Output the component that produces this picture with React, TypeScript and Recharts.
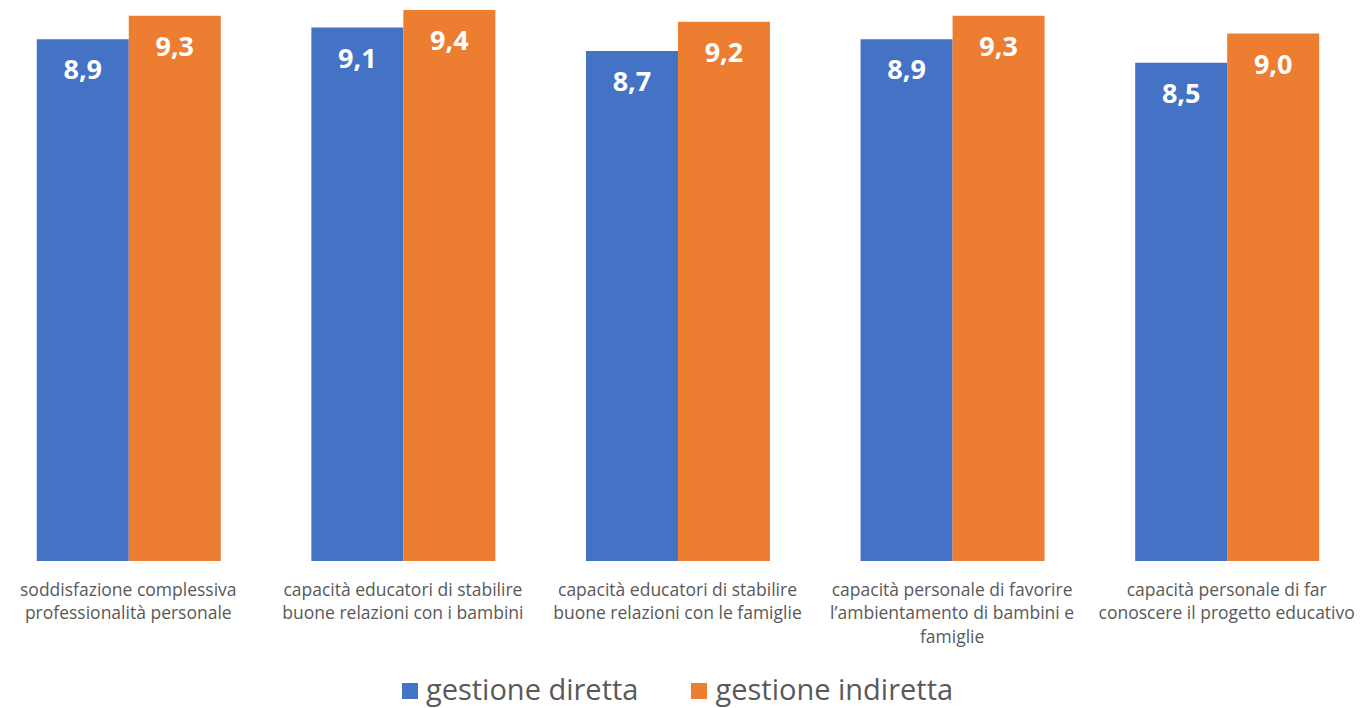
import { BarChart, Bar, XAxis, YAxis, Legend, LabelList } from 'recharts';

const categories = [
  'soddisfazione complessiva\nprofessionalità personale',
  'capacità educatori di stabilire\nbuone relazioni con i bambini',
  'capacità educatori di stabilire\nbuone relazioni con le famiglie',
  'capacità personale di favorire\nl’ambientamento di bambini e\nfamiglie',
  'capacità personale di far\nconoscere il progetto educativo',
];
const gestioneDiretta = [8.9, 9.1, 8.7, 8.9, 8.5];
const gestioneIndiretta = [9.3, 9.4, 9.2, 9.3, 9.0];

const data = categories.map((name, i) => ({
  name,
  diretta: gestioneDiretta[i],
  indiretta: gestioneIndiretta[i],
}));

const FONT = '"Open Sans", Calibri, sans-serif';
const BLUE = '#4472c4';
const ORANGE = '#ed7d31';

const CategoryTick = (props: any) => {
  const { x, y, payload } = props;
  const lines = String(payload.value).split('\n');
  return (
    <g transform={`translate(${x},${y})`}>
      {lines.map((line, i) => (
        <text
          key={i}
          x={0}
          y={22 + i * 23.5}
          textAnchor="middle"
          dominantBaseline="middle"
          fill="#595959"
          fontSize={17.5}
          fontFamily={FONT}
        >
          {line}
        </text>
      ))}
    </g>
  );
};

const ValueLabel = (props: any) => {
  const { x, y, width, value } = props;
  return (
    <text
      x={x + width / 2}
      y={y + 33}
      textAnchor="middle"
      dominantBaseline="middle"
      fill="#ffffff"
      fontSize={27}
      fontWeight={700}
      fontFamily={FONT}
    >
      {String(value.toFixed(1)).replace('.', ',')}
    </text>
  );
};

const LegendContent = () => (
  <div style={{ display: 'flex', justifyContent: 'center', gap: 53, height: 40, fontFamily: FONT, fontSize: 29, color: '#595959' }}>
    {[
      { label: 'gestione diretta', color: BLUE },
      { label: 'gestione indiretta', color: ORANGE },
    ].map((item) => (
      <div key={item.label} style={{ display: 'flex', alignItems: 'center' }}>
        <span style={{ display: 'inline-block', width: 16, height: 16, background: item.color, marginRight: 8, marginTop: 6 }} />
        <span>{item.label}</span>
      </div>
    ))}
  </div>
);

export default function App() {
  return (
    <div style={{ position: 'fixed', left: 0, top: 0, width: 1364, height: 708, overflow: 'hidden', background: '#fff' }}>
      <div style={{ marginLeft: -9 }}>
        <BarChart
          width={1373}
          height={708}
          data={data}
          margin={{ top: 0, right: 0, bottom: 0, left: 0 }}
          barCategoryGap="16.67%"
          barGap={0}
        >
          <XAxis
            dataKey="name"
            axisLine={false}
            tickLine={false}
            interval={0}
            height={107}
            tick={<CategoryTick />}
          />
          <YAxis hide domain={[0, 9.57]} allowDataOverflow />
          <Legend
            verticalAlign="bottom"
            content={<LegendContent />}
            wrapperStyle={{ bottom: 0, height: 40 }}
          />
          <Bar dataKey="diretta" fill={BLUE} isAnimationActive={false}>
            <LabelList dataKey="diretta" content={<ValueLabel />} />
          </Bar>
          <Bar dataKey="indiretta" fill={ORANGE} isAnimationActive={false}>
            <LabelList dataKey="indiretta" content={<ValueLabel />} />
          </Bar>
        </BarChart>
      </div>
    </div>
  );
}
